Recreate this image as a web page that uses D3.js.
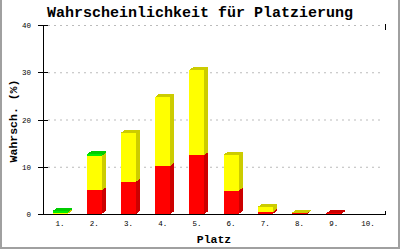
<!DOCTYPE html>
<html>
<head>
<meta charset="utf-8">
<script src="https://cdn.jsdelivr.net/npm/d3@7"></script>
<style>
  html, body { margin:0; padding:0; background:#fff; }
  svg { display:block; }
</style>
</head>
<body>
<div id="chart"></div>
<script>
// Platzierung: stacked 3D bars (red / yellow / green)
const places = ['1.','2.','3.','4.','5.','6.','7.','8.','9.','10.'];
const redVals    = [0, 5.0, 6.8, 10.2, 12.5, 4.9, 0.4, 0.12, 0.15, 0];
const yellowVals = [0.3, 7.3, 10.4, 14.6, 18.0, 7.6, 1.1, 0.12, 0, 0];
const greenVals  = [0.3, 0.3, 0, 0, 0, 0, 0, 0, 0, 0];
const yTicks = [0, 10, 20, 30, 40];

(function(){
  const w = 400, h = 250;
  const svg = d3.select('#chart').append('svg').attr('width', w).attr('height', h);
  const mono = "'Liberation Mono','DejaVu Sans Mono',monospace";

  // frame
  svg.append('rect').attr('width', w).attr('height', h).attr('fill', '#fff');
  svg.append('path').attr('d', 'M1,0V248H399V0').attr('fill','none').attr('stroke','#a0a0a0').attr('stroke-width',2);

  const x = d3.scaleBand().domain(places).range([43, 385]).paddingInner(0.56).paddingOuter(0.28);
  const y = d3.scaleLinear().domain([0, 40]).range([214, 25]);

  // grid
  svg.append('g').selectAll('line').data(yTicks.filter(d=>d>0)).enter().append('line')
    .attr('x1', 48).attr('x2', 383).attr('y1', d=>y(d)+0.5).attr('y2', d=>y(d)+0.5)
    .attr('stroke', '#bbb').attr('stroke-dasharray', '2,4');

  // stacked 3d bars
  const series = [
    {vals: redVals,    front: '#ff0000', dark: '#cc0000'},
    {vals: yellowVals, front: '#ffff00', dark: '#cccc00'},
    {vals: greenVals,  front: '#00ee00', dark: '#00cc00'}
  ];
  const dx = 4, dy = 3;
  const bars = svg.append('g').attr('shape-rendering', 'crispEdges');
  places.forEach((p, i) => {
    let base = 0;
    series.forEach(s => {
      const v = s.vals[i];
      if (!(v > 0)) return;
      const x0 = x(p), x1 = x0 + x.bandwidth();
      const yb = y(base), yt = y(base + v);
      const g = bars.append('g');
      g.append('path').attr('d', `M${x1},${yb}L${x1+dx},${yb-dy}L${x1+dx},${yt-dy}L${x1},${yt}Z`).attr('fill', s.dark);
      g.append('path').attr('d', `M${x0},${yt}L${x0+dx},${yt-dy}L${x1+dx},${yt-dy}L${x1},${yt}Z`).attr('fill', s.dark);
      g.append('rect').attr('x', x0).attr('y', yt).attr('width', x.bandwidth()).attr('height', yb - yt).attr('fill', s.front);
      base += v;
    });
  });

  // axes
  const ax = svg.append('g').attr('stroke', '#000').attr('shape-rendering', 'crispEdges');
  ax.append('line').attr('x1', 43.5).attr('x2', 43.5).attr('y1', y(40)).attr('y2', y(0));
  ax.append('line').attr('x1', 43).attr('x2', 386).attr('y1', y(0)+0.5).attr('y2', y(0)+0.5);
  ax.selectAll('.tk').data(yTicks).enter().append('line')
    .attr('x1', 38).attr('x2', 48).attr('y1', d=>y(d)+0.5).attr('y2', d=>y(d)+0.5);
  ax.append('line').attr('x1', 385.5).attr('x2', 385.5).attr('y1', y(40)-1).attr('y2', y(40)+5);
  ax.append('line').attr('x1', 385.5).attr('x2', 385.5).attr('y1', y(0)-3).attr('y2', y(0));

  // tick labels
  svg.append('g').selectAll('text').data(yTicks).enter().append('text')
    .attr('x', 31).attr('y', d=>y(d)+3).attr('text-anchor','end')
    .attr('font-family', mono).attr('font-size', '7.5px').text(d=>d);
  svg.append('g').selectAll('text').data(places).enter().append('text')
    .attr('x', d=>x(d)+x.bandwidth()/2).attr('y', 226).attr('text-anchor','middle')
    .attr('font-family', mono).attr('font-size', '7.5px').text(d=>d);

  // titles
  svg.append('text').attr('x', 200).attr('y', 17).attr('text-anchor','middle')
    .attr('font-family', mono).attr('font-weight','bold').attr('font-size','15px')
    .text('Wahrscheinlichkeit für Platzierung');
  svg.append('text').attr('x', 214).attr('y', 243).attr('text-anchor','middle')
    .attr('font-family', mono).attr('font-weight','bold').attr('font-size','11.5px').text('Platz');
  svg.append('text').attr('transform','translate(16.5,121) rotate(-90)').attr('text-anchor','middle')
    .attr('font-family', mono).attr('font-weight','bold').attr('font-size','11.5px').text('Wahrsch. (%)');
})();
</script>
</body>
</html>
